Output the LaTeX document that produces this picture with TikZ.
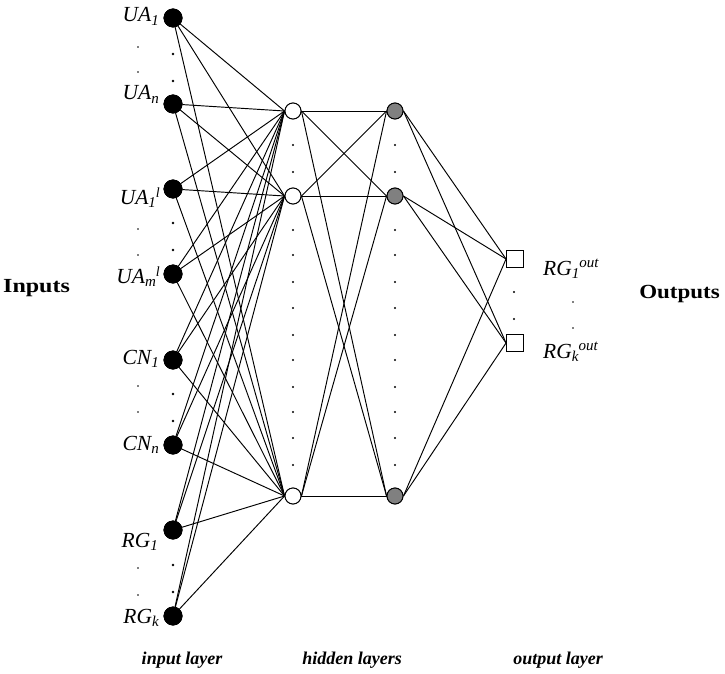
\documentclass[tikz,border=0pt]{standalone}
\usepackage{fontspec}
\setmainfont{Liberation Serif}
\newcommand\lsub[1]{\raisebox{-0.18em}{\fontsize{15}{15}\selectfont #1}}
\newcommand\lsup[1]{\raisebox{0.3em}{\fontsize{14}{14}\selectfont #1}}
\newcommand\osup[1]{\raisebox{0.36em}{\fontsize{15}{15}\selectfont #1}}
\begin{document}
\begin{tikzpicture}[x=1pt,y=-1pt,
  inp/.style={circle,fill=black,draw=black,inner sep=0pt,minimum size=18.5pt},
  hidw/.style={circle,fill=white,draw=black,line width=0.9pt,inner sep=0pt,minimum size=16pt},
  hidg/.style={circle,fill=black!50,draw=black,line width=0.9pt,inner sep=0pt,minimum size=16pt},
  outn/.style={rectangle,fill=white,draw=black,line width=0.9pt,inner sep=0pt,minimum size=17pt},
  conn/.style={draw=black,line width=0.95pt},
  lab/.style={inner sep=0pt,font=\fontsize{21.5}{21.5}\selectfont\itshape},
  big/.style={inner sep=0pt,font=\fontsize{20}{20}\selectfont\bfseries},
  layer/.style={inner sep=0pt,font=\fontsize{18}{18}\selectfont\bfseries\itshape},
  dotm/.style={fill=black}]
\useasboundingbox (0,0) rectangle (725,674);
% input nodes
\node[inp] (ua1) at (173,18) {};
\node[inp] (uan) at (173,104) {};
\node[inp] (ub1) at (173,189) {};
\node[inp] (ubm) at (173,274) {};
\node[inp] (cn1) at (173,360) {};
\node[inp] (cnn) at (173,445) {};
\node[inp] (rg1) at (173,530) {};
\node[inp] (rgk) at (173,616) {};
% hidden layers
\node[hidw] (ha) at (293,111) {};
\node[hidw] (hb) at (293,196) {};
\node[hidw] (hc) at (293,496) {};
\node[hidg] (ga) at (395,111) {};
\node[hidg] (gb) at (395,196) {};
\node[hidg] (gc) at (395,496) {};
% outputs
\node[outn] (o1) at (515,259) {};
\node[outn] (o2) at (515,343) {};
% connections
\foreach \i in {ua1,uan,ub1,ubm,cn1,cnn,rg1,rgk}
  \foreach \j in {ha,hb,hc}
    \draw[conn] (\i) -- (\j.west);
\foreach \i in {ha,hb,hc}
  \foreach \j in {ga,gb,gc}
    \draw[conn] (\i.east) -- (\j.west);
\foreach \i in {ga,gb,gc}
  \foreach \j in {o1,o2}
    \draw[conn] (\i.east) -- (\j.west);
% redraw nodes on top
\node[inp] at (ua1) {};
\node[inp] at (uan) {};
\node[inp] at (ub1) {};
\node[inp] at (ubm) {};
\node[inp] at (cn1) {};
\node[inp] at (cnn) {};
\node[inp] at (rg1) {};
\node[inp] at (rgk) {};
\node[hidw] at (ha) {};
\node[hidw] at (hb) {};
\node[hidw] at (hc) {};
\node[hidg] at (ga) {};
\node[hidg] at (gb) {};
\node[hidg] at (gc) {};
\node[outn] at (o1) {};
\node[outn] at (o2) {};
% dots in input column
\foreach \y in {54,81,223,250,394,421,565,592}
  \fill[dotm] (173,\y) circle (1.3pt);
% dots beside labels
\foreach \y in {47,72,229,255,386,412,568,595}
  \fill[dotm] (138,\y) circle (0.9pt);
% dots in hidden columns
\foreach \y in {145,172,230,255,282,308,335,360,387,412,438,465} {
  \fill[dotm] (293,\y) circle (1.1pt);
  \fill[dotm] (395,\y) circle (1.1pt);
}
% output dots
\foreach \y in {292,319}
  \fill[dotm] (514,\y) circle (1.1pt);
\foreach \y in {302,328}
  \fill[dotm] (573,\y) circle (0.9pt);
% labels
\node[lab,anchor=base east] (lua1) at (159,22) {UA\lsub{1}};
\node[lab,anchor=base east] (luan) at (159,100) {UA\lsub{n}};
\node[lab,anchor=base east] (lub1) at (160,204) {UA\lsub{1}\lsup{l}};
\node[lab,anchor=base east] (lubm) at (160,283) {UA\lsub{m}\lsup{l}};
\node[lab,anchor=base east] (lcn1) at (159,364) {CN\lsub{1}};
\node[lab,anchor=base east] (lcnn) at (159,450) {CN\lsub{n}};
\node[lab,anchor=base east] (lrg1) at (158,547) {RG\lsub{1}};
\node[lab,anchor=base east] (lrgk) at (159,623) {RG\lsub{k}};
\node[lab,anchor=base west] (lo1) at (543,275) {RG\lsub{1}\osup{out}};
\node[lab,anchor=base west] (lo2) at (543,358) {RG\lsub{k}\osup{out}};
\node[big,anchor=base west] (inputs) at (3,292) {\scalebox{1.2}[1]{Inputs}};
\node[big,anchor=base east] (outputs) at (720,298) {\scalebox{1.15}[1]{Outputs}};
\node[layer,anchor=base] (l1) at (182,664) {input layer};
\node[layer,anchor=base] (l2) at (352,664) {hidden layers};
\node[layer,anchor=base] (l3) at (558,664) {output layer};
\end{tikzpicture}
\end{document}
